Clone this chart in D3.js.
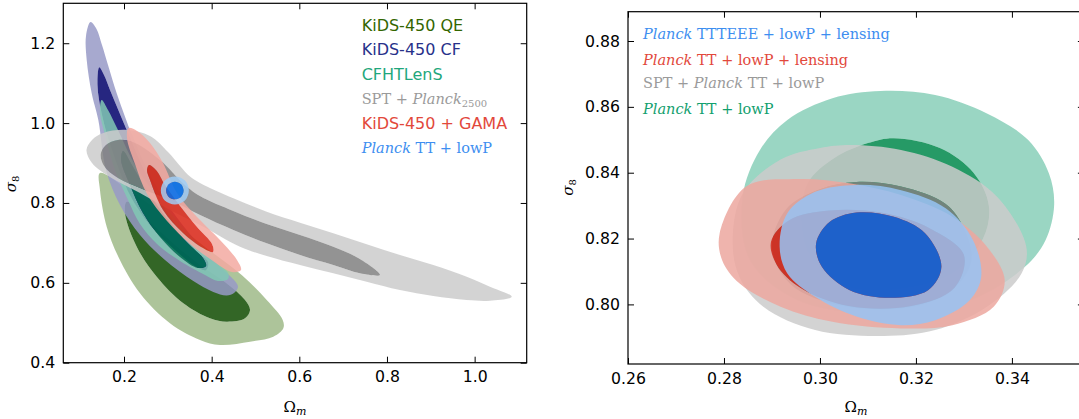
<!DOCTYPE html>
<html><head><meta charset="utf-8">
<script src="https://cdn.jsdelivr.net/npm/d3@7"></script>
<style>body{margin:0;background:#fff}svg{display:block}</style>
</head><body>
<svg id="c" width="1079" height="419"></svg>
<script>
// ---------- LEFT PANEL DATA (Omega_m, sigma_8) ----------
const leftXTicks = [0.2, 0.4, 0.6, 0.8, 1.0];
const leftYTicks = [0.4, 0.6, 0.8, 1.0, 1.2];

const qeOuter = [[0.1452,0.8751],[0.2137,0.8300],[0.3049,0.7600],[0.3848,0.6900],[0.4685,0.6197],[0.5256,0.5570],[0.5621,0.5070],[0.5635,0.4862],[0.5406,0.4651],[0.4875,0.4526],[0.4190,0.4443],[0.3734,0.4569],[0.3049,0.4987],[0.2365,0.5738],[0.1870,0.6655],[0.1605,0.7406],[0.1452,0.8326]];
const qeInner = [[0.2062,0.8033],[0.2593,0.7524],[0.3164,0.6950],[0.3734,0.6447],[0.4304,0.6021],[0.4761,0.5570],[0.4875,0.5320],[0.4761,0.5112],[0.4343,0.5027],[0.3962,0.5112],[0.3353,0.5488],[0.2746,0.6154],[0.2290,0.6905],[0.2023,0.7742]];

const cfOuter = [[0.1236,1.2533],[0.1361,1.2383],[0.1498,1.1957],[0.1635,1.1456],[0.1833,1.0748],[0.2023,1.0162],[0.2183,0.9703],[0.2593,0.8701],[0.3050,0.7875],[0.3620,0.7073],[0.4145,0.6447],[0.4510,0.6071],[0.4601,0.5896],[0.4510,0.5746],[0.4343,0.5683],[0.4037,0.5771],[0.3581,0.6046],[0.2935,0.6572],[0.2365,0.7198],[0.1909,0.7950],[0.1589,0.8827],[0.1414,1.0079],[0.1263,1.0748],[0.1149,1.1582],[0.1133,1.2183]];
const cfInner = [[0.1436,1.1399],[0.1544,1.1206],[0.1681,1.0830],[0.1870,1.0329],[0.2091,0.9753],[0.2460,0.8827],[0.3030,0.7699],[0.3620,0.6823],[0.3917,0.6522],[0.3871,0.6322],[0.3620,0.6422],[0.3164,0.6823],[0.2593,0.7449],[0.2137,0.8200],[0.1726,0.9328],[0.1498,1.0204],[0.1395,1.0956]];

const cfhtOuter = [[0.1491,1.0580],[0.1635,1.0329],[0.1863,0.9828],[0.2251,0.8952],[0.2821,0.8075],[0.3506,0.7198],[0.4076,0.6522],[0.4373,0.6247],[0.4373,0.6096],[0.4145,0.6046],[0.3848,0.6197],[0.3278,0.6547],[0.2753,0.6973],[0.2365,0.7474],[0.2091,0.8075],[0.1795,0.8827],[0.1567,0.9703],[0.1452,1.0279]];
const cfhtInner = [[0.1980,0.9300],[0.2180,0.8952],[0.2520,0.8326],[0.3000,0.7574],[0.3450,0.6998],[0.3802,0.6622],[0.3871,0.6422],[0.3688,0.6372],[0.3278,0.6647],[0.2821,0.7148],[0.2433,0.7749],[0.2137,0.8451],[0.1932,0.9077]];

const sptOuter = [[0.1144,0.9328],[0.1270,0.9578],[0.1528,0.9753],[0.2062,0.9828],[0.2593,0.9678],[0.3004,0.9277],[0.3300,0.8900],[0.3506,0.8660],[0.3734,0.8500],[0.4494,0.8118],[0.5256,0.7782],[0.6016,0.7507],[0.6775,0.7241],[0.7537,0.6966],[0.8297,0.6698],[0.9057,0.6447],[0.9819,0.6154],[1.0350,0.5904],[1.0846,0.5653],[1.0350,0.5553],[0.9819,0.5570],[0.9057,0.5671],[0.8297,0.5821],[0.7537,0.6029],[0.6775,0.6239],[0.6016,0.6447],[0.5256,0.6673],[0.4647,0.6905],[0.3734,0.7449],[0.3049,0.7825],[0.2365,0.8250],[0.1681,0.8651],[0.1270,0.9002]];
const sptInner = [[0.1468,0.9227],[0.1589,0.9453],[0.1863,0.9578],[0.2251,0.9503],[0.2821,0.9077],[0.3392,0.8451],[0.3734,0.8175],[0.4494,0.7800],[0.5256,0.7474],[0.6016,0.7198],[0.6775,0.6905],[0.7384,0.6597],[0.7841,0.6197],[0.7384,0.6239],[0.6775,0.6447],[0.6016,0.6698],[0.5256,0.6991],[0.4494,0.7324],[0.3734,0.7699],[0.3049,0.8075],[0.2365,0.8376],[0.1863,0.8626],[0.1544,0.8927]];

const gamaOuter = [[0.2103,0.9878],[0.2297,0.9803],[0.2593,0.9503],[0.2890,0.9002],[0.3209,0.8250],[0.3666,0.7649],[0.4190,0.7073],[0.4578,0.6572],[0.4669,0.6322],[0.4464,0.6272],[0.4031,0.6547],[0.3506,0.6973],[0.2981,0.7549],[0.2525,0.8225],[0.2251,0.8977],[0.2068,0.9628]];
const gamaInner = [[0.2570,0.8952],[0.2730,0.8827],[0.2935,0.8451],[0.3278,0.7925],[0.3666,0.7399],[0.4008,0.6973],[0.4031,0.6773],[0.3802,0.6873],[0.3346,0.7249],[0.2890,0.7825],[0.2593,0.8576],[0.2525,0.8827]];

const planckOuter = [[0.348,0.831],[0.339,0.856],[0.316,0.866],[0.293,0.856],[0.284,0.831],[0.293,0.806],[0.316,0.796],[0.339,0.806]];
const planckInner = [[0.336,0.831],[0.330,0.847],[0.316,0.853],[0.302,0.847],[0.296,0.831],[0.302,0.815],[0.316,0.809],[0.330,0.815]];

// ---------- RIGHT PANEL DATA ----------
const rightXTicks = [0.26, 0.28, 0.30, 0.32, 0.34];
const rightYTicks = [0.80, 0.82, 0.84, 0.86, 0.88];

const ttOuter = [[0.2839,0.8327],[0.2875,0.8469],[0.2932,0.8560],[0.3026,0.8626],[0.3126,0.8648],[0.3240,0.8636],[0.3348,0.8580],[0.3434,0.8499],[0.3477,0.8398],[0.3488,0.8302],[0.3470,0.8195],[0.3427,0.8114],[0.3312,0.8013],[0.3133,0.7973],[0.2954,0.8013],[0.2854,0.8135]];
const ttInner = [[0.3154,0.8505],[0.3250,0.8475],[0.3320,0.8400],[0.3352,0.8300],[0.3340,0.8200],[0.3280,0.8100],[0.3170,0.8050],[0.3050,0.8060],[0.2980,0.8150],[0.2962,0.8270],[0.2975,0.8370],[0.3030,0.8445],[0.3100,0.8490]];

const sptpOuter = [[0.2818,0.8195],[0.2839,0.8337],[0.2918,0.8440],[0.3000,0.8475],[0.3063,0.8484],[0.3169,0.8469],[0.3276,0.8418],[0.3369,0.8327],[0.3430,0.8175],[0.3420,0.8094],[0.3348,0.7993],[0.3240,0.7922],[0.3133,0.7904],[0.2990,0.7922],[0.2882,0.7993],[0.2832,0.8084]];
const sptpInner = [[0.3000,0.8350],[0.3076,0.8372],[0.3169,0.8358],[0.3262,0.8305],[0.3300,0.8230],[0.3315,0.8130],[0.3280,0.8050],[0.3200,0.7995],[0.3050,0.7995],[0.2940,0.8060],[0.2900,0.8170],[0.2930,0.8290]];

const lensOuter = [[0.2791,0.8216],[0.2846,0.8358],[0.2954,0.8381],[0.3061,0.8368],[0.3169,0.8332],[0.3276,0.8266],[0.3348,0.8175],[0.3385,0.8074],[0.3362,0.7993],[0.3276,0.7937],[0.3169,0.7927],[0.3026,0.7947],[0.2918,0.7993],[0.2832,0.8064],[0.2796,0.8135]];
const lensInner = [[0.2898,0.8190],[0.2935,0.8255],[0.3020,0.8285],[0.3130,0.8278],[0.3230,0.8230],[0.3300,0.8150],[0.3280,0.8050],[0.3190,0.7995],[0.3060,0.7995],[0.2960,0.8050],[0.2910,0.8120]];

const teeeOuter = [[0.2916,0.8175],[0.2932,0.8277],[0.2990,0.8342],[0.3076,0.8363],[0.3169,0.8347],[0.3262,0.8292],[0.3319,0.8195],[0.3336,0.8084],[0.3312,0.8013],[0.3240,0.7952],[0.3169,0.7937],[0.3076,0.7963],[0.2990,0.8023],[0.2932,0.8094]];
const teeeInner = [[0.2992,0.8185],[0.3020,0.8250],[0.3076,0.8279],[0.3154,0.8266],[0.3219,0.8216],[0.3253,0.8114],[0.3226,0.8044],[0.3147,0.8020],[0.3061,0.8044],[0.3004,0.8114]];

// legend labels
const leftLegend = [
  {color:"#336600", parts:[["KiDS-450 QE","sans"]]},
  {color:"#27318a", parts:[["KiDS-450 CF","sans"]]},
  {color:"#1fa77c", parts:[["CFHTLenS","sans"]]},
  {color:"#9a9a9a", parts:[["SPT + ","rm"],["Planck","it"],["2500","sub"]]},
  {color:"#e2483b", parts:[["KiDS-450 + GAMA","sans"]]},
  {color:"#3d8ef0", parts:[["Planck","it"],[" TT + lowP","rm"]]}
];
const rightLegend = [
  {color:"#3d8ef0", parts:[["Planck","it"],[" TTTEEE + lowP + lensing","rm"]]},
  {color:"#e2483b", parts:[["Planck","it"],[" TT + lowP + lensing","rm"]]},
  {color:"#9a9a9a", parts:[["SPT + ","rm"],["Planck","it"],[" TT + lowP","rm"]]},
  {color:"#12a06e", parts:[["Planck","it"],[" TT + lowP","rm"]]}
];

// ---------- DRAWING ----------
const ALPHA = 0.85;
const svg = d3.select("#c");
const defs = svg.append("defs");

function panel(o){
  const x = d3.scaleLinear().domain(o.xDomain).range(o.xRange);
  const y = d3.scaleLinear().domain(o.yDomain).range(o.yRange);
  const g = svg.append("g");
  const id = "clip" + o.name;
  defs.append("clipPath").attr("id", id).append("rect")
    .attr("x", o.xRange[0]).attr("y", o.yRange[1])
    .attr("width", o.xRange[1]-o.xRange[0]).attr("height", o.yRange[0]-o.yRange[1]);
  const line = d3.line().x(d=>x(d[0])).y(d=>y(d[1])).curve(d3.curveCatmullRomClosed.alpha(0.5));
  const layer = g.append("g").attr("clip-path", `url(#${id})`);
  o.layers.forEach(L=>{
    layer.append("path").attr("d", line(L.outer)+line(L.inner))
      .attr("fill", L.c1).attr("fill-rule","evenodd").attr("fill-opacity", ALPHA);
    layer.append("path").attr("d", line(L.inner))
      .attr("fill", L.c2).attr("fill-opacity", ALPHA);
  });
  const tl = 6;
  const fx = d3.format(o.xFmt), fy = d3.format(o.yFmt);
  const style = sel => {
    sel.select(".domain").remove();
    sel.attr("font-family","DejaVu Sans").attr("font-size",15.7);
    sel.selectAll(".tick line").attr("stroke","#000").attr("stroke-width",1);
    sel.selectAll(".tick text").attr("fill","#000");
  };
  g.append("g").attr("transform",`translate(0,${o.yRange[0]})`)
    .call(d3.axisBottom(x).tickValues(o.xTicks).tickFormat(fx).tickSizeInner(-tl).tickSizeOuter(0).tickPadding(8.5)).call(style);
  g.append("g").attr("transform",`translate(0,${o.yRange[1]})`)
    .call(d3.axisTop(x).tickValues(o.xTicks).tickFormat("").tickSizeInner(-tl).tickSizeOuter(0)).call(style);
  g.append("g").attr("transform",`translate(${o.xRange[0]},0)`)
    .call(d3.axisLeft(y).tickValues(o.yTicks).tickFormat(fy).tickSizeInner(-tl).tickSizeOuter(0).tickPadding(8)).call(style);
  g.append("g").attr("transform",`translate(${o.xRange[1]},0)`)
    .call(d3.axisRight(y).tickValues(o.yTicks).tickFormat("").tickSizeInner(-tl).tickSizeOuter(0)).call(style);
  g.append("rect").attr("x",o.xRange[0]).attr("y",o.yRange[1])
    .attr("width",o.xRange[1]-o.xRange[0]).attr("height",o.yRange[0]-o.yRange[1])
    .attr("fill","none").attr("stroke","#000").attr("stroke-width",1.2);

  // legend
  o.legend.forEach((r,i)=>{
    const isSans = r.parts[0][1]==="sans";
    const t = g.append("text").attr("x",o.legendX)
      .attr("y", o.legendY[i] + (isSans?5.8:5.3))
      .attr("fill", r.color);
    r.parts.forEach(p=>{
      const s = t.append("tspan").text(p[0]);
      if(p[1]==="sans"){ s.attr("font-family","DejaVu Sans").attr("font-size",16); }
      else if(p[1]==="rm"){ s.attr("font-family","DejaVu Serif").attr("font-size",14.5); }
      else if(p[1]==="it"){ s.attr("font-family","DejaVu Serif").attr("font-style","italic").attr("font-size",14.5); }
      else if(p[1]==="sub"){ s.attr("font-family","DejaVu Serif").attr("font-size",10).attr("dy",3); }
    });
  });

  // axis labels
  const xl = g.append("text").attr("x",(o.xRange[0]+o.xRange[1])/2).attr("y",411.5)
    .attr("text-anchor","middle").attr("font-family","DejaVu Serif").attr("font-size",15).attr("fill","#000");
  xl.append("tspan").text("Ω");
  xl.append("tspan").text("m").attr("font-style","italic").attr("font-size",11).attr("dy",3);
  const yl = g.append("text").attr("transform",`translate(${o.yLabelX},${o.yLabelY}) rotate(-90)`)
    .attr("text-anchor","middle").attr("font-family","DejaVu Serif").attr("font-size",15).attr("fill","#000");
  yl.append("tspan").text("σ").attr("font-style","italic");
  yl.append("tspan").text("8").attr("font-size",10).attr("dy",3);
}

panel({
  name:"L", xDomain:[0.0615,1.1188], yDomain:[0.4,1.3], xRange:[63.3,526.7], yRange:[362.7,3.3],
  xTicks:leftXTicks, yTicks:leftYTicks, xFmt:".1f", yFmt:".1f",
  layers:[
    {outer:qeOuter, inner:qeInner, c1:"#9fba88", c2:"#0f4b00"},
    {outer:cfOuter, inner:cfInner, c1:"#989ac7", c2:"#00006a"},
    {outer:cfhtOuter, inner:cfhtInner, c1:"#81c8b4", c2:"#007554"},
    {outer:sptOuter, inner:sptInner, c1:"#cbcbcb", c2:"#808080"},
    {outer:gamaOuter, inner:gamaInner, c1:"#f3a9a1", c2:"#d82314"},
    {outer:planckOuter, inner:planckInner, c1:"#a0ccf5", c2:"#0070f0"}
  ],
  legend:leftLegend, legendX:361.7, legendY:[25,49.3,74,98.3,123.3,147.7],
  yLabelX:15.5, yLabelY:184
});

panel({
  name:"R", xDomain:[0.26,0.355], yDomain:[0.7819,0.8889], xRange:[628,1083.9], yRange:[364,11.7],
  xTicks:rightXTicks, yTicks:rightYTicks, xFmt:".2f", yFmt:".2f",
  layers:[
    {outer:ttOuter, inner:ttInner, c1:"#88cfb8", c2:"#00884b"},
    {outer:sptpOuter, inner:sptpInner, c1:"#cbcbcb", c2:"#808080"},
    {outer:lensOuter, inner:lensInner, c1:"#eca79f", c2:"#d82314"},
    {outer:teeeOuter, inner:teeeInner, c1:"#97c3f5", c2:"#006ae8"}
  ],
  legend:rightLegend, legendX:643, legendY:[33.3,59.2,83,108.2],
  yLabelX:572.7, yLabelY:187.5
});
</script>
</body></html>
